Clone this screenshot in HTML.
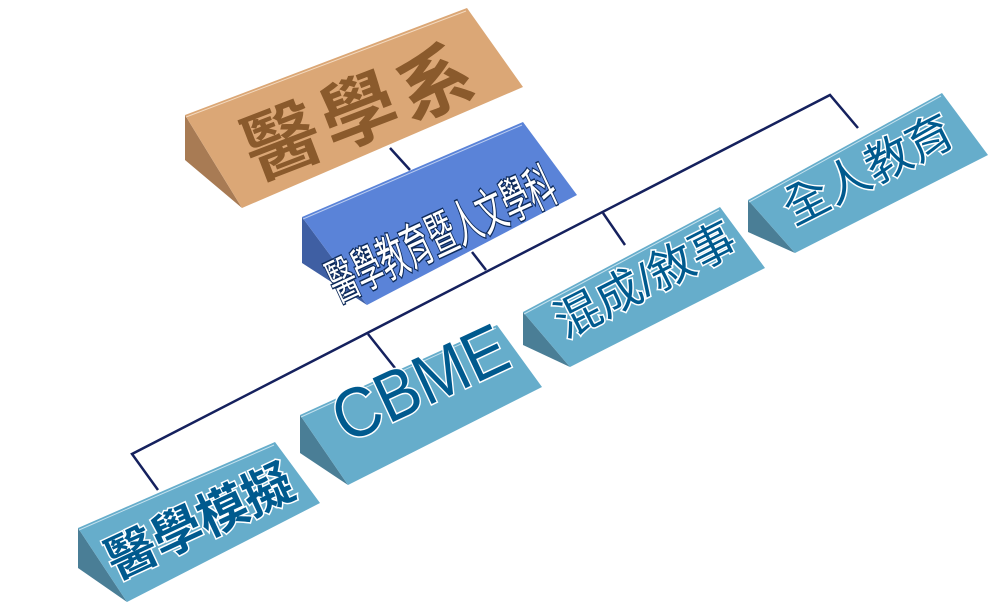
<!DOCTYPE html>
<html><head><meta charset="utf-8"><style>
html,body{margin:0;padding:0;background:#fff;width:994px;height:606px;overflow:hidden}
svg{display:block}
text{font-family:"Liberation Sans","Noto Sans CJK TC",sans-serif;font-weight:bold;text-anchor:middle;dominant-baseline:central;paint-order:stroke}
</style></head><body>
<svg width="994" height="606" viewBox="0 0 994 606">
<g stroke="#15215e" stroke-width="2.5" fill="none">
<polyline points="158,490 132,454 830,95 858,128"/>
<line x1="368" y1="334" x2="395" y2="368"/>
<line x1="603" y1="213" x2="625" y2="245"/>
<line x1="472" y1="252" x2="486" y2="270"/>
<line x1="390" y1="148" x2="410" y2="170"/>
</g>
<!-- 醫學系 -->
<polygon points="185,115 185,160 242,208" fill="#a87b54"/>
<polygon points="185,115 467,8 523,87 242,208" fill="#dba776"/>
<line x1="186" y1="117" x2="466" y2="11" stroke="#f3d9bf" stroke-width="1"/>
<text x="362" y="112" font-size="76" fill="#8a5a2c" letter-spacing="6" transform="rotate(-21 362 112)">醫學系</text>
<!-- blue -->
<polygon points="302,217 302,263 367,305" fill="#3f5fa3"/>
<polygon points="302,217 523,122 577,195 367,305" fill="#5a83d8"/>
<line x1="303" y1="219" x2="522" y2="125" stroke="#b9cbf0" stroke-width="1"/>
<text x="442" y="235" font-size="50" fill="#fff" stroke="#0d2a5a" stroke-width="3" textLength="245" lengthAdjust="spacingAndGlyphs" transform="rotate(-25 442 235)" style="font-weight:normal">醫學教育暨人文學科</text>
<!-- CBME -->
<polygon points="300,415 300,453 348,485" fill="#4a7e96"/>
<polygon points="300,415 497,325 542,387 348,485" fill="#66adcb"/>
<line x1="301" y1="417" x2="496" y2="328" stroke="#c3e1ee" stroke-width="1"/>
<text x="420" y="383" font-size="70" fill="#005a8e" stroke="#fff" stroke-width="3" textLength="185" lengthAdjust="spacingAndGlyphs" transform="rotate(-25 420 383)" style="font-weight:normal">CBME</text>
<!-- 醫學模擬 -->
<polygon points="78,528 78,568 127,602" fill="#4a7e96"/>
<polygon points="78,528 275,442 320,503 127,602" fill="#66adcb"/>
<line x1="79" y1="530" x2="274" y2="445" stroke="#c3e1ee" stroke-width="1"/>
<text x="200" y="522" font-size="50" fill="#005a8e" stroke="#fff" stroke-width="3" transform="rotate(-25 200 522)">醫學模擬</text>
<!-- 混成/敘事 -->
<polygon points="523,312 523,345 570,367" fill="#4a7e96"/>
<polygon points="523,312 720,207 765,268 570,367" fill="#66adcb"/>
<line x1="524" y1="314" x2="719" y2="210" stroke="#c3e1ee" stroke-width="1"/>
<text x="645" y="280" font-size="46" fill="#005a8e" stroke="#fff" stroke-width="3" transform="rotate(-27 645 280)" style="font-weight:normal">混成/敘事</text>
<!-- 全人教育 -->
<polygon points="748,200 748,232 795,253" fill="#4a7e96"/>
<polygon points="748,200 942,93 988,155 795,253" fill="#66adcb"/>
<line x1="749" y1="202" x2="941" y2="96" stroke="#c3e1ee" stroke-width="1"/>
<text x="868" y="170" font-size="46" fill="#005a8e" stroke="#fff" stroke-width="3" transform="rotate(-27 868 170)" style="font-weight:normal">全人教育</text>
</svg>
</body></html>
